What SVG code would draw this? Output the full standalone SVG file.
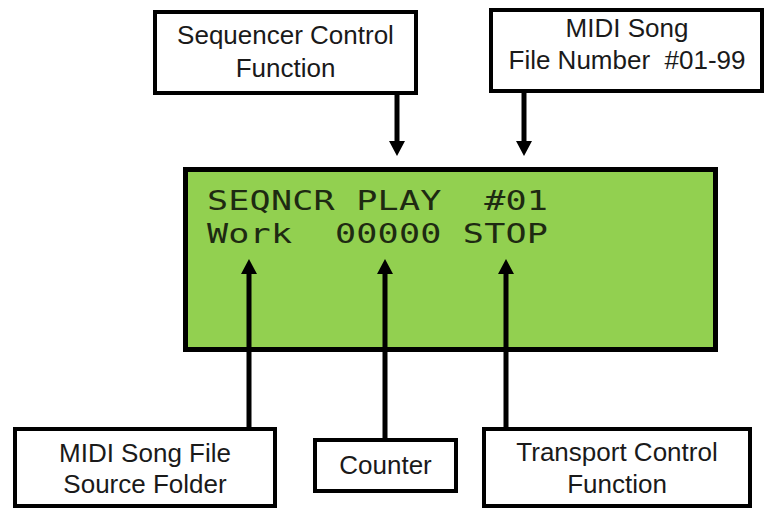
<svg xmlns="http://www.w3.org/2000/svg" width="767" height="510" viewBox="0 0 767 510">
<style>
.box{fill:#ffffff;stroke:#000000;stroke-width:4}
.lbl{font-family:"Liberation Sans",Arial,sans-serif;font-size:26px;fill:#1a1a1a;text-anchor:middle}
.lcd{font-family:"DejaVu Sans Mono",monospace;font-size:27px;fill:#1e2a12}
.con{stroke:#000000;stroke-width:5;fill:none}
.head{fill:#000000}
</style>
<rect width="767" height="510" fill="#ffffff"/>
<g id="display">
<rect x="185.5" y="169.5" width="530" height="180" fill="#92d050" stroke="#000000" stroke-width="5"/>
<g transform="scale(1.3,1)">
<text class="lcd" x="159.2" y="210" xml:space="preserve" textLength="262.3" lengthAdjust="spacing">SEQNCR PLAY  #01</text>
<text class="lcd" x="159.2" y="243" xml:space="preserve" textLength="262.3" lengthAdjust="spacing">Work  00000 STOP</text>
</g>
</g>
<g id="seq-control">
<rect class="box" x="155" y="12" width="261" height="81"/>
<text class="lbl" x="285.5" y="44">Sequencer Control</text>
<text class="lbl" x="285.5" y="77">Function</text>
</g>
<g id="song-number">
<rect class="box" x="491" y="10" width="271" height="81"/>
<text class="lbl" x="627" y="37">MIDI Song</text>
<text class="lbl" x="627" y="69" xml:space="preserve">File Number  #01-99</text>
</g>
<g id="source-folder">
<rect class="box" x="15" y="429" width="260" height="77"/>
<text class="lbl" x="145" y="462">MIDI Song File</text>
<text class="lbl" x="145" y="493">Source Folder</text>
</g>
<g id="counter">
<rect class="box" x="315" y="440" width="141" height="51"/>
<text class="lbl" x="385.5" y="474">Counter</text>
</g>
<g id="transport">
<rect class="box" x="484" y="429" width="266" height="77"/>
<text class="lbl" x="617" y="461">Transport Control</text>
<text class="lbl" x="617" y="493">Function</text>
</g>
<g id="connectors">
<line class="con" x1="397" y1="93" x2="397" y2="143"/>
<polygon class="head" points="389,141 405,141 397,156"/>
<line class="con" x1="524" y1="91" x2="524" y2="143"/>
<polygon class="head" points="516,141 532,141 524,156"/>
<line class="con" x1="249" y1="428" x2="249" y2="272"/>
<polygon class="head" points="241,274 257,274 249,259"/>
<line class="con" x1="385" y1="439" x2="385" y2="272"/>
<polygon class="head" points="377,274 393,274 385,259"/>
<line class="con" x1="506" y1="428" x2="506" y2="272"/>
<polygon class="head" points="498,274 514,274 506,259"/>
</g>
</svg>
